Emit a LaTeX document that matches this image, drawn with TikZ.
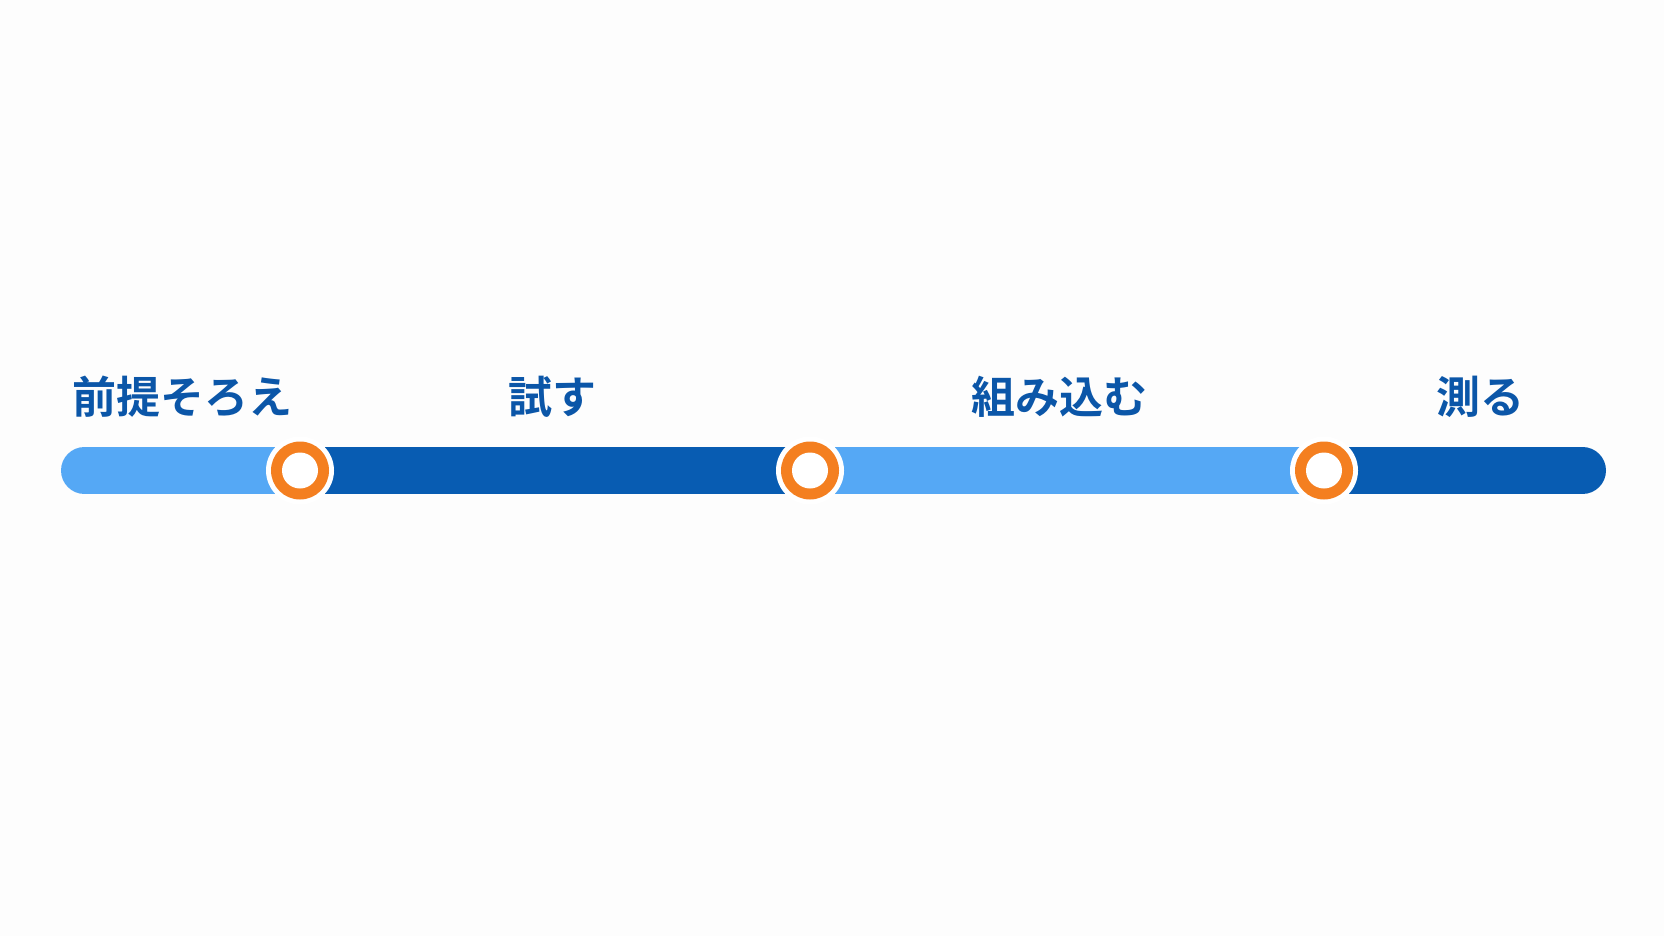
\documentclass[tikz,border=0pt]{standalone}
\usepackage{fontspec}
\newfontfamily\jpfont{Noto Sans CJK JP}[BoldFont={* Bold}]
\definecolor{bglight}{HTML}{FDFDFD}
\definecolor{lightseg}{HTML}{55A8F5}
\definecolor{darkseg}{HTML}{085CB2}
\definecolor{ringorange}{HTML}{F47F20}
\definecolor{labelblue}{HTML}{0B56A8}
\tikzset{
  seglight/.style={draw=lightseg, line width=47pt, line cap=round},
  segdark/.style={draw=darkseg, line width=47pt, line cap=round},
  station/.style={circle, fill=white, minimum size=68pt, inner sep=0pt, outer sep=0pt,
    path picture={\fill[ringorange] (path picture bounding box.center) circle (29pt);
                  \fill[white] (path picture bounding box.center) circle (18pt);}},
  steplabel/.style={text=labelblue, font=\jpfont\bfseries\fontsize{44pt}{52pt}\selectfont, inner sep=0pt, anchor=center}
}
\begin{document}
\begin{tikzpicture}[x=1pt,y=-1pt]
\fill[bglight] (0,0) rectangle (1664,936);
\useasboundingbox (0,0) rectangle (1664,936);
\coordinate (start) at (84.5,470.5);
\coordinate (finish) at (1582.5,470.5);
\coordinate (p1) at (300,470.5);
\coordinate (p2) at (810,470.5);
\coordinate (p3) at (1324,470.5);
\draw[seglight] (start) -- (p1);
\draw[segdark] (p1) -- (p2);
\draw[seglight] (p2) -- (p3);
\draw[segdark] (p3) -- (finish);
\node[station] (s1) at (p1) {};
\node[station] (s2) at (p2) {};
\node[station] (s3) at (p3) {};
\node[steplabel] (l1) at (182,397) {前提そろえ};
\node[steplabel] (l2) at (552,397) {試す};
\node[steplabel] (l3) at (1059,397) {組み込む};
\node[steplabel] (l4) at (1480,397) {測る};
\end{tikzpicture}
\end{document}
